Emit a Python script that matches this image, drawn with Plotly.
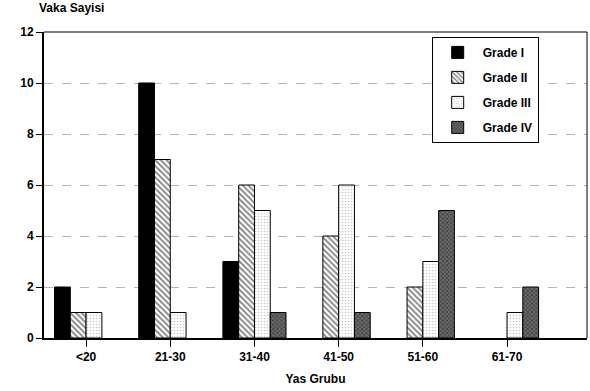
import plotly.graph_objects as go

categories = ["<20", "21-30", "31-40", "41-50", "51-60", "61-70"]
grade_i = [2, 10, 3, 0, 0, 0]
grade_ii = [1, 7, 6, 4, 2, 0]
grade_iii = [1, 1, 5, 6, 3, 1]
grade_iv = [0, 0, 1, 1, 5, 2]
y_ticks = [0, 2, 4, 6, 8, 10, 12]

FONT = "Liberation Sans"

series = [
    ("Grade I", grade_i, dict(color="black", line=dict(color="black", width=1))),
    ("Grade II", grade_ii, dict(color="white", line=dict(color="black", width=1),
                                pattern=dict(shape="\\", fgcolor="black", bgcolor="white",
                                             size=4, solidity=0.45))),
    ("Grade III", grade_iii, dict(color="white", line=dict(color="black", width=1),
                                  pattern=dict(shape=".", fgcolor="#9a9a9a", bgcolor="white",
                                               size=3, solidity=0.25))),
    ("Grade IV", grade_iv, dict(color="#444444", line=dict(color="black", width=1),
                                pattern=dict(shape="x", fgcolor="black", bgcolor="#6a6a6a",
                                             size=3, solidity=0.4))),
]

fig = go.Figure()
for name, vals, marker in series:
    shown = [v if v else None for v in vals]  # zero-height bars are not drawn
    fig.add_trace(go.Bar(x=categories, y=shown, name=name, marker=marker,
                         legendgroup=name))

fig.update_layout(
    width=590, height=391,
    margin=dict(l=44, r=3, t=32, b=53),
    paper_bgcolor="white", plot_bgcolor="white",
    barmode="group", bargap=0.25, bargroupgap=0,
    font=dict(family=FONT, size=11, color="black"),
    showlegend=True,
    legend=dict(x=0.714, y=0.984, xanchor="left", yanchor="top",
                bordercolor="black", borderwidth=1, bgcolor="white",
                font=dict(family=FONT, size=12, color="black", weight="bold"),
                itemwidth=40, tracegroupgap=6),
    xaxis=dict(range=[-0.5, 5.95], showline=True, linecolor="black", linewidth=1.5,
               mirror=False, ticks="outside", ticklen=7, tickcolor="black",
               tickfont=dict(family=FONT, size=12, weight="bold"),
               title=dict(text="Yas Grubu", font=dict(family=FONT, size=12, weight="bold"),
                          standoff=11)),
    yaxis=dict(range=[0, 12], tickvals=y_ticks, showline=True, linecolor="black",
               linewidth=2, ticks="outside", ticklen=6, tickcolor="black",
               tickfont=dict(family=FONT, size=12, weight="bold"),
               showgrid=True, gridcolor="#b5b5b5", griddash="dash", gridwidth=1,
               zeroline=False),
    annotations=[dict(text="Vaka Sayisi", xref="paper", yref="paper", x=-0.012, y=1.0,
                      yshift=15, xanchor="left", yanchor="bottom", showarrow=False,
                      font=dict(family=FONT, size=12, weight="bold"))],
)
fig.add_shape(type="line", xref="paper", yref="paper", x0=1, x1=1, y0=0, y1=1,
              line=dict(color="black", width=1))
fig.add_shape(type="line", xref="paper", yref="paper", x0=0, x1=1, y0=1, y1=1,
              line=dict(color="black", width=1))

fig.write_html("out.html", config={"displayModeBar": False},
               post_script="document.body.style.margin='0';")
